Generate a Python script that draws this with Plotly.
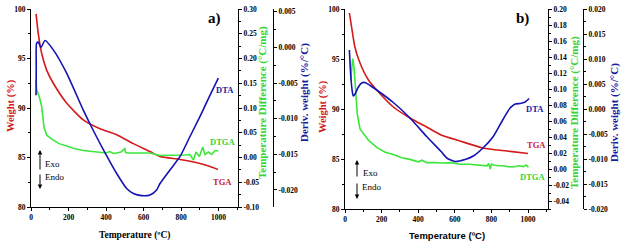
import plotly.graph_objects as go

W, H = 627, 250

# ---------------- data: panel a ----------------
tga_a_T = [27, 39, 57, 84, 119, 190, 279, 368, 457, 546, 635, 688, 795, 901, 955, 997]
tga_a_w = [99.5, 97.5, 95.5, 93.8, 92.5, 90.5, 88.8, 87.9, 87.3, 86.4, 85.6, 85.1, 84.8, 84.4, 84.1, 83.8]

dta_a_T = [27, 28, 30, 39, 53, 75, 119, 190, 279, 335, 395, 457, 510, 546, 590, 635, 670, 688, 741, 795, 848, 901, 955, 999]
dta_a_v = [-0.0067, -0.0027, 0.0006, 0.00074, 0.0000, 0.00097, -0.00034, -0.0036, -0.0088, -0.0118,
           -0.0148, -0.0177, -0.0198, -0.0205, -0.0208, -0.0207, -0.0200, -0.0191, -0.0172, -0.0153,
           -0.0125, -0.0097, -0.0067, -0.0043]

dtga_a_T = [27, 30, 44, 57, 69, 84, 119, 150, 190, 230, 279, 320, 368, 400, 420, 440, 457, 480, 500, 505,
            520, 546, 580, 635, 688, 740, 777, 820, 848, 866, 880, 898, 916, 928, 946, 964, 982, 999]
dtga_a_v = [0.157, 0.137, 0.123, 0.103, 0.062, 0.045, 0.035, 0.028, 0.023, 0.018, 0.014, 0.012, 0.011,
            0.009, 0.012, 0.008, 0.009, 0.011, 0.018, 0.010, 0.009, 0.009, 0.010, 0.009, 0.004, 0.004,
            0.004, 0.005, 0.006, -0.005, 0.011, 0.002, 0.021, 0.006, 0.011, 0.006, 0.014, 0.013]

# ---------------- data: panel b ----------------
tga_b_T = [24, 36, 54, 82, 128, 173, 264, 355, 446, 525, 628, 754, 884, 1000]
tga_b_w = [99.6, 98.2, 96.2, 94.6, 92.9, 91.9, 90.2, 89.1, 88.2, 87.4, 86.8, 86.1, 85.8, 85.55]

dta_b_T = [24, 30, 38, 45, 55, 70, 91, 109, 137, 173, 264, 355, 446, 525, 556, 601, 656, 701, 754, 810,
           863, 902, 930, 957, 984, 1006]
dta_b_v = [0.0118, 0.0075, 0.0040, 0.0026, 0.0030, 0.0042, 0.0052, 0.0053, 0.0047, 0.0038, 0.0013,
           -0.0018, -0.0055, -0.0085, -0.0098, -0.0105, -0.0101, -0.0094, -0.0078, -0.0055, -0.0021,
           0.0002, 0.0010, 0.0011, 0.0014, 0.0021]

dtga_b_T = [31, 42, 49, 58, 67, 82, 128, 173, 220, 264, 310, 355, 400, 420, 446, 490, 537, 580, 628, 680,
            720, 775, 785, 793, 800, 811, 840, 866, 890, 920, 950, 975, 990, 1002]
dtga_b_v = [0.111, 0.138, 0.128, 0.094, 0.069, 0.050, 0.036, 0.027, 0.021, 0.018, 0.014, 0.012, 0.009,
            0.011, 0.008, 0.008, 0.0075, 0.008, 0.006, 0.006, 0.005, 0.004, 0.007, 0.000, 0.006, 0.005,
            0.004, 0.004, 0.003, 0.0025, 0.004, 0.003, 0.005, 0.002]

# ---------------- tick labels ----------------
x_ticks = [0, 200, 400, 600, 800, 1000]
weight_ticks = [80, 85, 90, 95, 100]
tdiff_a_ticks = [-0.10, -0.05, 0.00, 0.05, 0.10, 0.15, 0.20, 0.25, 0.30]
deriv_a_ticks = [-0.020, -0.015, -0.010, -0.005, 0.000, 0.005]
tdiff_b_ticks = [-0.04, -0.02, 0.00, 0.02, 0.04, 0.06, 0.08, 0.10, 0.12, 0.14, 0.16, 0.18, 0.20]
deriv_b_ticks = [-0.020, -0.015, -0.010, -0.005, 0.000, 0.005, 0.010, 0.015, 0.020]

RED = "#d41a1a"
BLUE = "#1414b4"
GREEN = "#3ce63c"
TXT_RED = "#cc1a33"
TXT_GREEN = "#33d433"
TXT_BLUE = "#1a1aa0"

SERIF = "Liberation Serif"
SANS = "Liberation Sans"
tickfont = dict(family=SERIF, size=7.5, color="black", weight="bold")


def fmt(vals, nd):
    return [f"{v:.{nd}f}".replace("-0." + "0" * nd, "0." + "0" * nd) for v in vals]


def fx(xp):
    return xp / W


def fy(yp):
    return 1 - yp / H


fig = go.Figure()

# panel a traces
fig.add_trace(go.Scatter(x=tga_a_T, y=tga_a_w, mode="lines", line=dict(color=RED, width=1.6, shape="spline", smoothing=0.6),
                         xaxis="x", yaxis="y", name="TGA"))
fig.add_trace(go.Scatter(x=dtga_a_T, y=dtga_a_v, mode="lines", line=dict(color=GREEN, width=1.6),
                         xaxis="x", yaxis="y2", name="DTGA"))
fig.add_trace(go.Scatter(x=dta_a_T, y=dta_a_v, mode="lines", line=dict(color=BLUE, width=1.6, shape="spline", smoothing=0.6),
                         xaxis="x", yaxis="y3", name="DTA"))
# panel b traces
fig.add_trace(go.Scatter(x=tga_b_T, y=tga_b_w, mode="lines", line=dict(color=RED, width=1.6, shape="spline", smoothing=0.6),
                         xaxis="x2", yaxis="y4", name="TGA"))
fig.add_trace(go.Scatter(x=dtga_b_T, y=dtga_b_v, mode="lines", line=dict(color=GREEN, width=1.6),
                         xaxis="x2", yaxis="y5", name="DTGA"))
fig.add_trace(go.Scatter(x=dta_b_T, y=dta_b_v, mode="lines", line=dict(color=BLUE, width=1.6, shape="spline", smoothing=0.6),
                         xaxis="x2", yaxis="y6", name="DTA"))

common = dict(showline=True, linecolor="black", linewidth=1, ticks="outside", ticklen=3, tickwidth=1,
              tickcolor="black", showgrid=False, zeroline=False, tickfont=tickfont, tickmode="array",
              automargin=False)

ya_dom = [fy(207), fy(9)]
yb_dom = [fy(209), fy(9)]

fig.update_layout(
    width=W, height=H, margin=dict(l=0, r=0, t=0, b=0, pad=0, autoexpand=False),
    paper_bgcolor="white", plot_bgcolor="white", showlegend=False,
    xaxis=dict(domain=[fx(31), fx(238)], range=[0, 1104], anchor="y", tickvals=x_ticks,
               ticktext=[str(v) for v in x_ticks],
               minor=dict(dtick=100, tick0=0, ticks="outside", ticklen=2, tickcolor="black"), **common),
    yaxis=dict(domain=ya_dom, range=[80, 100], anchor="x", tickvals=weight_ticks,
               ticktext=[str(v) for v in weight_ticks],
               minor=dict(dtick=2.5, tick0=80, ticks="outside", ticklen=2, tickcolor="black"), **common),
    yaxis2=dict(domain=ya_dom, range=[-0.1, 0.3], anchor="x", overlaying="y", side="right",
                tickvals=tdiff_a_ticks, ticktext=fmt(tdiff_a_ticks, 2),
                minor=dict(dtick=0.025, tick0=0, ticks="outside", ticklen=2, tickcolor="black"), **common),
    yaxis3=dict(domain=ya_dom, range=[-0.0224, 0.0054], anchor="free", position=fx(273), overlaying="y",
                side="right", tickvals=deriv_a_ticks, ticktext=fmt(deriv_a_ticks, 3),
                minor=dict(dtick=0.0025, tick0=0, ticks="outside", ticklen=2, tickcolor="black"), **common),
    xaxis2=dict(domain=[fx(345), fx(548)], range=[0, 1109], anchor="y4", tickvals=x_ticks,
                ticktext=[str(v) for v in x_ticks],
                minor=dict(dtick=100, tick0=0, ticks="outside", ticklen=2, tickcolor="black"), **common),
    yaxis4=dict(domain=yb_dom, range=[80, 100], anchor="x2", tickvals=weight_ticks,
                ticktext=[str(v) for v in weight_ticks],
                minor=dict(dtick=2.5, tick0=80, ticks="outside", ticklen=2, tickcolor="black"), **common),
    yaxis5=dict(domain=yb_dom, range=[-0.05, 0.2], anchor="x2", overlaying="y4", side="right",
                tickvals=tdiff_b_ticks, ticktext=fmt(tdiff_b_ticks, 2),
                minor=dict(dtick=0.01, tick0=0, ticks="outside", ticklen=2, tickcolor="black"), **common),
    yaxis6=dict(domain=yb_dom, range=[-0.02, 0.02], anchor="free", position=fx(583), overlaying="y4",
                side="right", tickvals=deriv_b_ticks, ticktext=fmt(deriv_b_ticks, 3),
                minor=dict(dtick=0.0025, tick0=0, ticks="outside", ticklen=2, tickcolor="black"), **common),
)


def text(xp, yp, s, color="black", size=9, family=SERIF, angle=0, bold=True, xanchor="center"):
    fig.add_annotation(x=fx(xp), y=fy(yp), xref="paper", yref="paper", text=s, showarrow=False, textangle=angle,
                       xanchor=xanchor, yanchor="middle",
                       font=dict(family=family, size=size, color=color, weight="bold" if bold else "normal"))


def arrow(xp, y_head, y_tail):
    fig.add_annotation(x=fx(xp), y=fy(y_head), xref="paper", yref="paper", text="", showarrow=True,
                       ax=0, ay=y_tail - y_head, arrowhead=2, arrowsize=0.9, arrowwidth=1, arrowcolor="black")


# axis titles (rotated)
text(11, 106, "Weight (%)", color=RED, size=10.5, angle=-90)
text(263, 103, "Temperature Difference (°C/mg)", color=TXT_GREEN, size=11, angle=-90)
text(304, 93, "Deriv. weight (%/°C)", color=TXT_BLUE, size=11, angle=-90)
text(323, 107, "Weight (%)", color=RED, size=10.5, angle=-90)
text(575, 113, "Temperature Difference (°C/mg)", color=TXT_GREEN, size=11, angle=-90)
text(615, 113, "Deriv. weight (%/°C)", color=TXT_BLUE, size=11, angle=-90)

# panel a texts
text(214, 19, "a)", size=15)
text(134, 235, "Temperature (ºC)", size=9.5)
text(225, 90, "DTA", color=TXT_BLUE, size=8.5)
text(222, 142, "DTGA", color=TXT_GREEN, size=8.5)
text(222, 182, "TGA", color=TXT_RED, size=8.5)
arrow(40, 150, 171)
arrow(40, 189, 173)
text(43, 164, "Exo", size=9, bold=False, xanchor="left")
text(43, 177, "Endo", size=9, bold=False, xanchor="left")

# panel b texts
text(522, 19, "b)", size=15)
text(447, 235, "Temperature (ºC)", size=9.5, family=SANS)
text(535, 109, "DTA", color=TXT_BLUE, size=8.5)
text(536, 145, "TGA", color=TXT_RED, size=8.5)
text(532, 177, "DTGA", color=TXT_GREEN, size=8.5)
arrow(357, 160, 178)
arrow(357, 199, 182)
text(361, 173, "Exo", size=9, bold=False, xanchor="left")
text(360, 187, "Endo", size=9, bold=False, xanchor="left")

# remove the default 8px page margin so the 627x250 figure sits exactly in the window
fig.write_html("out.html", config={"displayModeBar": False},
               post_script="document.body.style.margin='0';")
